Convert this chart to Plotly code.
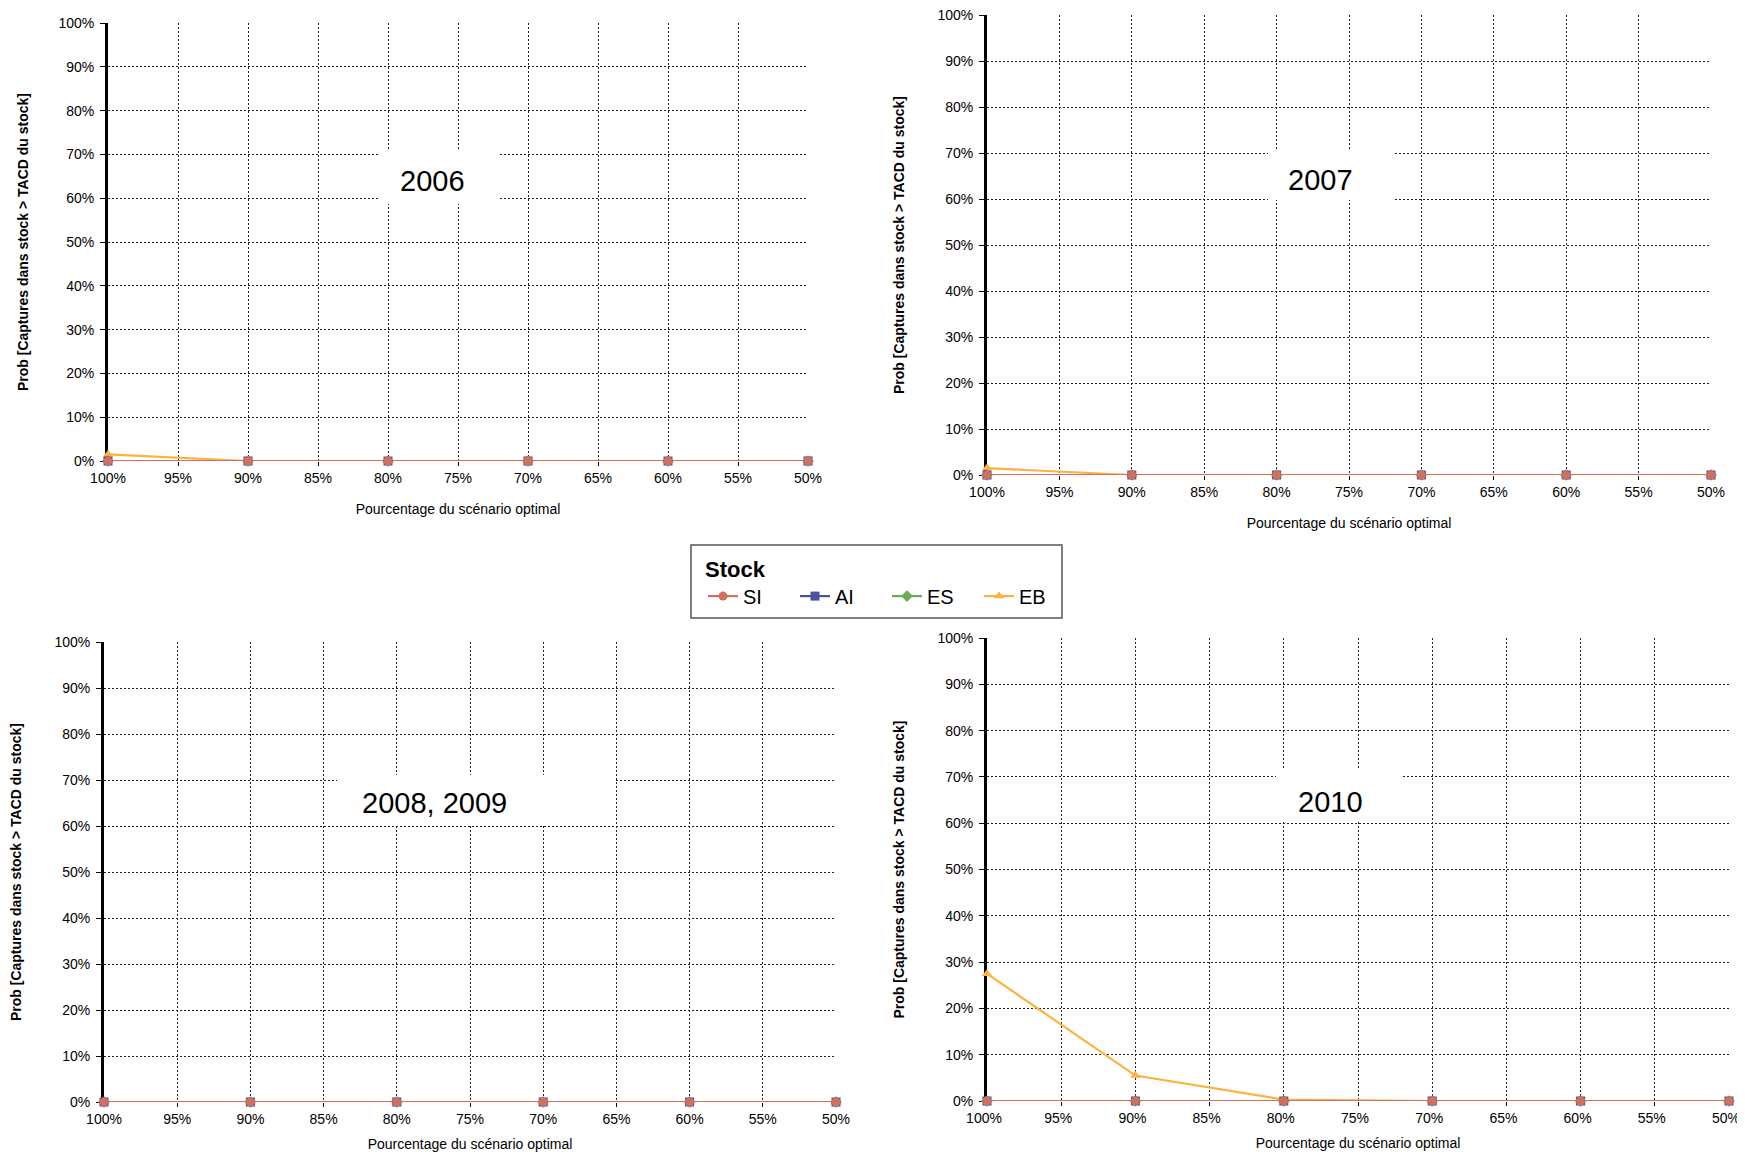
import plotly.graph_objects as go

# page offset (default body margin) compensation
OFF = 8
W, H = 1745 - OFF, 1152 - OFF

# ---- data ----
scenario_pct = [100, 90, 80, 70, 60, 50]
stocks = ["SI", "AI", "ES", "EB"]
panel_titles = ["2006", "2007", "2008, 2009", "2010"]

si_2006 = [0, 0, 0, 0, 0, 0]
ai_2006 = [0, 0, 0, 0, 0, 0]
es_2006 = [0, 0, 0, 0, 0, 0]
eb_2006 = [0.015, 0.0, 0, 0, 0, 0]

si_2007 = [0, 0, 0, 0, 0, 0]
ai_2007 = [0, 0, 0, 0, 0, 0]
es_2007 = [0, 0, 0, 0, 0, 0]
eb_2007 = [0.015, 0.0, 0, 0, 0, 0]

si_2008 = [0, 0, 0, 0, 0, 0]
ai_2008 = [0, 0, 0, 0, 0, 0]
es_2008 = [0, 0, 0, 0, 0, 0]
eb_2008 = [0, 0, 0, 0, 0, 0]

si_2010 = [0, 0, 0, 0, 0, 0]
ai_2010 = [0, 0, 0, 0, 0, 0]
es_2010 = [0, 0, 0, 0, 0, 0]
eb_2010 = [0.275, 0.055, 0.003, 0, 0, 0]

panels = [
    {"SI": si_2006, "AI": ai_2006, "ES": es_2006, "EB": eb_2006},
    {"SI": si_2007, "AI": ai_2007, "ES": es_2007, "EB": eb_2007},
    {"SI": si_2008, "AI": ai_2008, "ES": es_2008, "EB": eb_2008},
    {"SI": si_2010, "AI": ai_2010, "ES": es_2010, "EB": eb_2010},
]

colors = {"SI": "#D2705F", "AI": "#4C529E", "ES": "#6CAA57", "EB": "#FDB140"}
symbols = {"SI": "circle", "AI": "square", "ES": "diamond", "EB": "triangle-up"}


def px(x):
    return (x - OFF) / W


def py(y):
    return 1 - (y - OFF) / H


# pixel boxes of plot areas (reference px): (left, top, right, bottom)
boxes = [(108, 23, 808, 461), (987, 15, 1711, 475), (104, 642, 836, 1102), (987, 638, 1729, 1101)]
# white label boxes (l, t, r, b) and text centers
label_rects = [(380, 150, 500, 204), (1268, 149, 1394, 200), (337, 775, 615, 826), (1276, 769, 1403, 822)]
label_centers = [(432, 181), (1320, 180), (434, 803), (1330, 802)]
xtitle_standoff = [19, 19, 13, 13]
ytitle_standoff = [27, 30, 30, 30]
xlabel_shift = [0, 0, 0, 3]

FONT = "Liberation Sans, Arial, sans-serif"
fig = go.Figure()

for i, pdata in enumerate(panels):
    ax = "" if i == 0 else str(i + 1)
    for s in ["EB", "ES", "AI", "SI"]:
        fig.add_trace(go.Scatter(
            x=scenario_pct, y=pdata[s], name=s, mode="lines+markers",
            line=dict(color=colors[s], width=2.2),
            marker=dict(symbol=symbols[s], size=9, color=colors[s]),
            xaxis="x" + ax, yaxis="y" + ax, cliponaxis=False,
            showlegend=(i == 0), legendgroup=s,
        ))

layout = dict(
    width=W, height=H, margin=dict(l=0, r=0, t=0, b=0, autoexpand=False),
    paper_bgcolor="white", plot_bgcolor="white",
    font=dict(family=FONT, color="#000", size=14),
    legend=dict(
        orientation="h", x=px(703), y=py(548), xanchor="left", yanchor="top",
        borderwidth=0, bgcolor="rgba(0,0,0,0)",
        traceorder="reversed", entrywidth=47,
        title=dict(text="<b>Stock</b>", side="top", font=dict(size=22)),
        font=dict(size=20), itemwidth=30,
    ),
    annotations=[],
    shapes=[dict(type="rect", xref="paper", yref="paper", x0=px(691), x1=px(1062),
                 y0=py(618), y1=py(545), line=dict(color="#555", width=1.5),
                 fillcolor="rgba(0,0,0,0)", layer="above")],
)

grid = dict(gridcolor="#222", griddash="2px,2px", gridwidth=1)
for i, (l, t, r, b) in enumerate(boxes):
    ax = "" if i == 0 else str(i + 1)
    layout["xaxis" + ax] = dict(
        domain=[px(l), px(r)], anchor="y" + ax, range=[100, 50], automargin=False,
        tick0=50, dtick=5, ticksuffix="%", showgrid=True, **grid,
        showline=False, ticks="outside", ticklen=4, layer="below traces",
        tickcolor="#000", zeroline=False, tickfont=dict(size=14),
        ticklabeloverflow="allow", ticklabelshift=xlabel_shift[i],
        title=dict(text="Pourcentage du scénario optimal", standoff=xtitle_standoff[i],
                   font=dict(size=14)),
    )
    layout["yaxis" + ax] = dict(
        domain=[py(b), py(t)], anchor="x" + ax, range=[0, 1], automargin=False,
        dtick=0.1, tickformat=".0%", showgrid=True, **grid, layer="below traces",
        showline=True, linecolor="#000", linewidth=3, ticks="outside", ticklen=5,
        tickcolor="#000", zeroline=False, tickfont=dict(size=14), ticklabelstandoff=3,
        ticklabeloverflow="allow",
        title=dict(text="<b>Prob [Captures dans stock > TACD du stock]</b>",
                   standoff=ytitle_standoff[i], font=dict(size=14)),
    )
    rl, rt, rr, rb = label_rects[i]
    layout["annotations"].append(dict(
        text=" ", xref="paper", yref="paper", x=px((rl + rr) / 2), y=py((rt + rb) / 2),
        xanchor="center", yanchor="middle", showarrow=False, bgcolor="white",
        width=rr - rl, height=rb - rt, borderpad=0, borderwidth=0,
    ))
    cx, cy = label_centers[i]
    layout["annotations"].append(dict(
        text=panel_titles[i], xref="paper", yref="paper", x=px(cx), y=py(cy),
        xanchor="center", yanchor="middle", showarrow=False,
        font=dict(size=29, color="#000"),
    ))

fig.update_layout(**layout)
fig.write_html("out.html")
